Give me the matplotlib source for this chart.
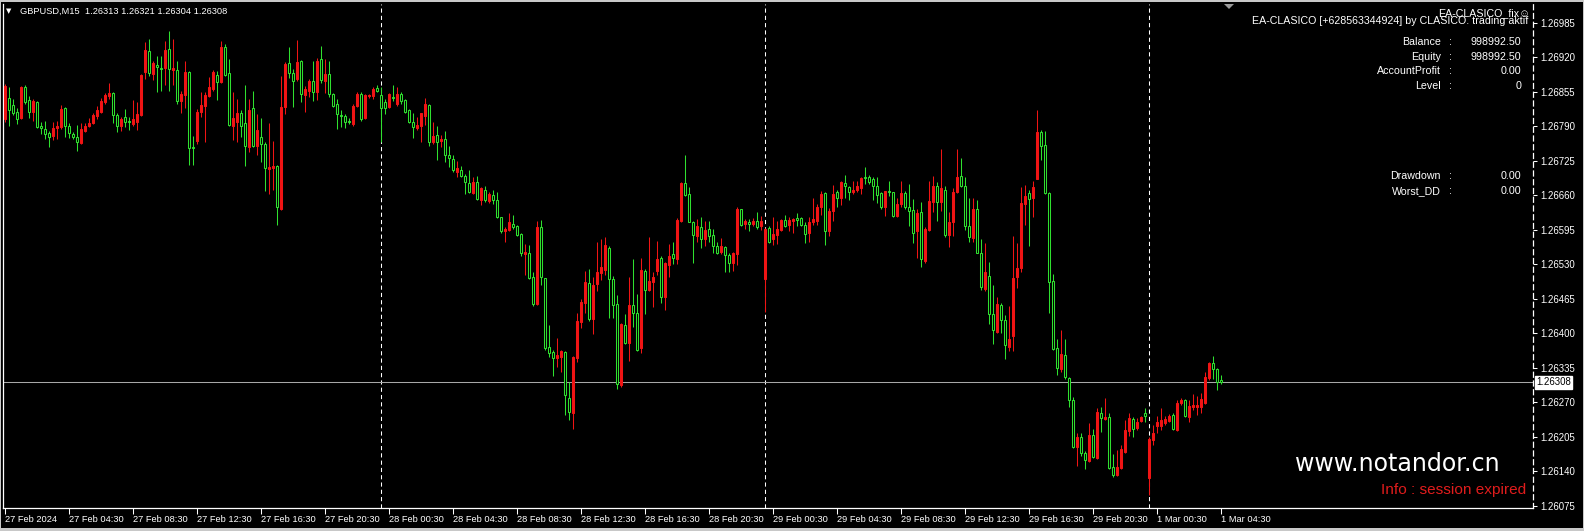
import numpy as np
import pandas as pd
import matplotlib
matplotlib.use("Agg")
import matplotlib.pyplot as plt
from matplotlib.patches import Rectangle, Polygon

# GBPUSD M15 candles, prices in points (1e-5)
opens = [
    126803, 126843, 126830, 126818, 126805, 126864, 126839, 126818, 126835, 126790,
    126785, 126777, 126772, 126787, 126788, 126824, 126790, 126776, 126770, 126758,
    126781, 126790, 126797, 126809, 126818, 126835, 126847, 126853, 126811, 126790,
    126807, 126801, 126795, 126799, 126811, 126892, 126932, 126889, 126906, 126900,
    126900, 126936, 126896, 126896, 126837, 126849, 126892, 126751, 126762, 126818,
    126828, 126847, 126860, 126887, 126873, 126940, 126890, 126790, 126799, 126816,
    126797, 126751, 126824, 126753, 126770, 126756, 126709, 126711, 126715, 126634,
    126826, 126909, 126890, 126879, 126913, 126849, 126856, 126875, 126855, 126917,
    126875, 126889, 126851, 126832, 126811, 126809, 126801, 126795, 126828, 126851,
    126805, 126847, 126847, 126862, 126849, 126835, 126826, 126845, 126833, 126851,
    126839, 126820, 126799, 126787, 126790, 126809, 126830, 126760, 126774, 126762,
    126766, 126736, 126728, 126705, 126707, 126696, 126683, 126664, 126685, 126652,
    126671, 126650, 126660, 126652, 126619, 126592, 126594, 126607, 126603, 126588,
    126549, 126552, 126507, 126456, 126600, 126505, 126375, 126365, 126354, 126356,
    126365, 126279, 126250, 126354, 126422, 126458, 126495, 126428, 126494, 126514,
    126520, 126560, 126503, 126456, 126303, 126416, 126382, 126454, 126439, 126373,
    126518, 126481, 126497, 126518, 126543, 126468, 126528, 126549, 126541, 126611,
    126683, 126662, 126609, 126583, 126600, 126577, 126596, 126585, 126564, 126554,
    126562, 126547, 126533, 126549, 126634, 126607, 126609, 126607, 126611, 126602,
    126503, 126598, 126577, 126585, 126594, 126613, 126604, 126611, 126617, 126617,
    126605, 126590, 126609, 126611, 126639, 126664, 126592, 126630, 126666, 126656,
    126683, 126675, 126666, 126671, 126673, 126694, 126694, 126690, 126677, 126664,
    126639, 126669, 126666, 126622, 126643, 126664, 126639, 126632, 126592, 126628,
    126537, 126594, 126647, 126677, 126647, 126671, 126585, 126609, 126666, 126696,
    126677, 126602, 126579, 126634, 126552, 126484, 126509, 126437, 126403, 126454,
    126426, 126375, 126396, 126507, 126524, 126643, 126664, 126656, 126690, 126779,
    126755, 126664, 126499, 126373, 126333, 126360, 126316, 126275, 126186, 126205,
    126175, 126160, 126209, 126165, 126250, 126239, 126243, 126149, 126134, 126147,
    126177, 126216, 126239, 126222, 126235, 126250, 126128, 126199, 126226, 126226,
    126231, 126235, 126246, 126218, 126269, 126275, 126243, 126262, 126262, 126262,
    126269, 126316, 126344, 126333, 126313,
]
highs = [
    126870, 126864, 126841, 126824, 126866, 126868, 126847, 126841, 126837, 126799,
    126801, 126781, 126799, 126801, 126830, 126826, 126797, 126779, 126792, 126797,
    126797, 126805, 126816, 126828, 126843, 126853, 126872, 126855, 126815, 126807,
    126822, 126807, 126839, 126835, 126889, 126949, 126955, 126913, 126923, 126923,
    126951, 126970, 126955, 126913, 126856, 126913, 126894, 126772, 126822, 126855,
    126855, 126883, 126896, 126894, 126951, 126945, 126917, 126855, 126841, 126820,
    126868, 126841, 126856, 126813, 126805, 126760, 126797, 126762, 126717, 126885,
    126911, 126940, 126898, 126953, 126915, 126866, 126879, 126913, 126919, 126942,
    126917, 126913, 126853, 126841, 126820, 126813, 126805, 126833, 126855, 126855,
    126851, 126851, 126864, 126868, 126864, 126841, 126853, 126868, 126864, 126855,
    126841, 126822, 126816, 126807, 126816, 126843, 126832, 126799, 126790, 126774,
    126781, 126753, 126737, 126724, 126715, 126700, 126707, 126694, 126696, 126675,
    126677, 126666, 126671, 126666, 126620, 126600, 126626, 126624, 126605, 126590,
    126569, 126567, 126515, 126611, 126613, 126505, 126416, 126369, 126392, 126369,
    126367, 126309, 126358, 126439, 126464, 126518, 126522, 126507, 126573, 126577,
    126581, 126564, 126509, 126473, 126420, 126437, 126507, 126541, 126475, 126543,
    126522, 126581, 126516, 126575, 126545, 126535, 126569, 126573, 126617, 126685,
    126737, 126675, 126611, 126615, 126620, 126611, 126611, 126596, 126573, 126579,
    126564, 126552, 126554, 126639, 126635, 126615, 126615, 126617, 126628, 126622,
    126598, 126602, 126619, 126611, 126615, 126624, 126619, 126617, 126626, 126620,
    126609, 126619, 126656, 126643, 126669, 126666, 126637, 126679, 126671, 126688,
    126698, 126677, 126688, 126688, 126694, 126713, 126698, 126694, 126694, 126666,
    126669, 126688, 126666, 126656, 126688, 126668, 126681, 126654, 126635, 126647,
    126600, 126688, 126696, 126685, 126747, 126677, 126628, 126673, 126747, 126730,
    126694, 126656, 126656, 126652, 126577, 126571, 126535, 126492, 126469, 126458,
    126435, 126451, 126583, 126571, 126675, 126679, 126671, 126688, 126820, 126783,
    126781, 126666, 126512, 126390, 126407, 126390, 126318, 126281, 126212, 126212,
    126178, 126231, 126220, 126260, 126262, 126279, 126250, 126173, 126180, 126190,
    126237, 126250, 126243, 126241, 126245, 126260, 126205, 126228, 126245, 126260,
    126245, 126248, 126250, 126275, 126279, 126277, 126275, 126286, 126283, 126288,
    126328, 126346, 126358, 126335, 126321,
]
lows = [
    126799, 126790, 126811, 126795, 126803, 126833, 126805, 126801, 126787, 126776,
    126766, 126751, 126764, 126766, 126785, 126770, 126768, 126766, 126743, 126756,
    126779, 126788, 126794, 126803, 126816, 126833, 126841, 126797, 126779, 126781,
    126788, 126783, 126790, 126783, 126809, 126879, 126885, 126877, 126855, 126856,
    126868, 126856, 126868, 126832, 126815, 126824, 126718, 126718, 126756, 126807,
    126760, 126845, 126856, 126839, 126872, 126885, 126790, 126764, 126760, 126770,
    126715, 126741, 126751, 126736, 126722, 126669, 126662, 126671, 126604, 126632,
    126813, 126881, 126826, 126875, 126835, 126818, 126845, 126837, 126839, 126872,
    126853, 126845, 126826, 126785, 126788, 126787, 126795, 126790, 126826, 126801,
    126803, 126843, 126841, 126855, 126760, 126813, 126824, 126837, 126828, 126832,
    126816, 126797, 126768, 126783, 126760, 126792, 126753, 126756, 126726, 126751,
    126722, 126713, 126705, 126694, 126694, 126662, 126664, 126662, 126652, 126641,
    126647, 126645, 126643, 126617, 126590, 126573, 126592, 126596, 126583, 126545,
    126511, 126503, 126451, 126454, 126492, 126369, 126356, 126320, 126337, 126327,
    126246, 126237, 126220, 126346, 126411, 126439, 126424, 126398, 126479, 126501,
    126511, 126430, 126430, 126296, 126299, 126380, 126348, 126413, 126367, 126363,
    126437, 126479, 126449, 126511, 126458, 126445, 126507, 126530, 126530, 126609,
    126658, 126609, 126533, 126573, 126560, 126564, 126573, 126552, 126549, 126549,
    126515, 126515, 126518, 126528, 126602, 126596, 126592, 126602, 126596, 126594,
    126441, 126571, 126566, 126568, 126592, 126600, 126592, 126590, 126602, 126602,
    126571, 126573, 126605, 126605, 126624, 126567, 126583, 126611, 126639, 126641,
    126656, 126651, 126662, 126666, 126662, 126681, 126681, 126651, 126645, 126634,
    126622, 126658, 126620, 126620, 126639, 126634, 126602, 126571, 126543, 126526,
    126533, 126592, 126628, 126611, 126630, 126581, 126562, 126583, 126664, 126675,
    126594, 126573, 126573, 126552, 126481, 126479, 126418, 126381, 126400, 126401,
    126352, 126367, 126367, 126486, 126515, 126604, 126564, 126620, 126690, 126726,
    126662, 126439, 126369, 126322, 126327, 126314, 126262, 126184, 126151, 126169,
    126145, 126158, 126165, 126164, 126214, 126237, 126145, 126130, 126132, 126145,
    126175, 126207, 126205, 126218, 126233, 126233, 126096, 126190, 126212, 126218,
    126228, 126233, 126218, 126216, 126265, 126243, 126233, 126256, 126246, 126250,
    126267, 126313, 126314, 126294, 126304,
]
closes = [
    126866, 126820, 126816, 126803, 126864, 126835, 126818, 126837, 126788, 126787,
    126776, 126770, 126787, 126790, 126822, 126790, 126777, 126770, 126760, 126785,
    126790, 126797, 126811, 126820, 126837, 126849, 126853, 126811, 126790, 126803,
    126799, 126799, 126803, 126813, 126887, 126934, 126890, 126909, 126902, 126898,
    126934, 126898, 126900, 126837, 126851, 126892, 126749, 126749, 126818, 126830,
    126849, 126864, 126892, 126873, 126940, 126887, 126792, 126805, 126815, 126790,
    126753, 126820, 126753, 126783, 126756, 126711, 126713, 126715, 126639, 126826,
    126907, 126890, 126875, 126911, 126851, 126860, 126875, 126855, 126913, 126877,
    126889, 126851, 126828, 126813, 126809, 126799, 126799, 126828, 126851, 126803,
    126849, 126849, 126860, 126856, 126824, 126824, 126851, 126843, 126851, 126837,
    126818, 126799, 126788, 126792, 126815, 126832, 126760, 126772, 126760, 126766,
    126737, 126730, 126707, 126711, 126696, 126685, 126666, 126685, 126654, 126673,
    126652, 126662, 126652, 126619, 126592, 126596, 126609, 126600, 126585, 126552,
    126554, 126505, 126456, 126600, 126507, 126373, 126363, 126354, 126360, 126367,
    126284, 126252, 126356, 126424, 126460, 126497, 126428, 126492, 126516, 126526,
    126567, 126503, 126454, 126305, 126418, 126382, 126454, 126439, 126369, 126520,
    126481, 126499, 126507, 126541, 126468, 126533, 126545, 126543, 126613, 126683,
    126660, 126609, 126585, 126602, 126577, 126594, 126583, 126564, 126552, 126564,
    126547, 126533, 126551, 126635, 126604, 126611, 126607, 126611, 126600, 126611,
    126596, 126573, 126587, 126596, 126613, 126602, 126613, 126615, 126613, 126604,
    126587, 126609, 126615, 126639, 126662, 126592, 126630, 126662, 126656, 126685,
    126677, 126666, 126671, 126677, 126692, 126692, 126686, 126677, 126660, 126639,
    126668, 126666, 126622, 126643, 126664, 126639, 126630, 126590, 126626, 126541,
    126596, 126649, 126677, 126647, 126673, 126585, 126609, 126666, 126694, 126677,
    126602, 126581, 126635, 126552, 126488, 126515, 126437, 126407, 126456, 126426,
    126379, 126390, 126505, 126524, 126645, 126658, 126654, 126675, 126779, 126753,
    126664, 126497, 126371, 126335, 126361, 126318, 126275, 126186, 126205, 126175,
    126162, 126209, 126167, 126252, 126241, 126243, 126147, 126134, 126149, 126182,
    126218, 126241, 126220, 126233, 126243, 126245, 126201, 126212, 126233, 126237,
    126239, 126245, 126220, 126269, 126275, 126245, 126264, 126266, 126266, 126277,
    126318, 126344, 126333, 126309, 126308,
]

first_bar = "2024-02-27 00:30"
price_ticks_top = 1.26985
price_tick_step = 0.00065

W, H = 1584, 531
WHITE = "white"
GREEN = "#2fe02f"
RED = "#f01414"

o = np.array(opens) / 1e5
h = np.array(highs) / 1e5
l = np.array(lows) / 1e5
c = np.array(closes) / 1e5
x = np.arange(len(c))
times = pd.date_range(first_bar, periods=len(c), freq="15min")

plt.rcParams["font.family"] = ["Liberation Sans", "DejaVu Sans"]

fig = plt.figure(figsize=(W / 100, H / 100), dpi=100, facecolor="black")
ax = fig.add_axes([3 / W, 1 - 508 / H, (1533 - 3) / W, (508 - 4) / H])
ax.set_facecolor("black")

# bars: 4 px each
ax.set_xlim(-0.5, 382)
ax.set_ylim(1.260712, 1.270205)

up = c > o
col = np.where(up, RED, GREEN)
ax.vlines(x, l, h, colors=col, lw=0.75, zorder=2)
ax.bar(x, np.abs(c - o), bottom=np.minimum(o, c), width=0.5,
       color=np.where(up, RED, "black"), edgecolor=col, linewidth=0.75, zorder=3)

# day separators
for i, t in enumerate(times):
    if t.hour == 0 and t.minute == 0:
        ax.axvline(i, color=WHITE, lw=0.75, ls=(0, (4, 3)), zorder=1)

# bid line
ax.axhline(c[-1], color="#a8a8a8", lw=0.75, zorder=1)

# axes styling
for s in ["left", "bottom"]:
    ax.spines[s].set_color(WHITE)
    ax.spines[s].set_linewidth(0.9)
ax.spines["top"].set_visible(False)
ax.spines["right"].set_color(WHITE)
ax.spines["right"].set_linewidth(0.9)
ax.spines["right"].set_linestyle((0, (4, 3)))

yt = price_ticks_top - price_tick_step * np.arange(15)
ax.yaxis.tick_right()
ax.set_yticks(yt, [f"{v:.5f}" for v in yt])
ax.tick_params(axis="y", colors=WHITE, labelsize=6.9, length=3, width=0.75, pad=2)

xt = list(range(0, len(c), 16))
xl = []
for k in xt:
    t = times[k]
    if k == 0:
        xl.append(f"{t.day} {t:%b} {t.year}")
    else:
        xl.append(f"{t.day} {t:%b} {t:%H:%M}")
ax.set_xticks(xt, xl)
ax.tick_params(axis="x", colors=WHITE, labelsize=6.7, length=4, width=0.75, pad=1)
for lb in ax.get_xticklabels():
    lb.set_ha("left")

# bid price label
bid_y = ax.transData.transform((0, c[-1]))[1]
fig.text(1536 / W, bid_y / H, f"{c[-1]:.5f}", color="black", fontsize=6.9,
         va="center", ha="left",
         bbox=dict(boxstyle="square,pad=0.15", fc="white", ec="white"))


def ftext(px, py, s, **kw):
    kw.setdefault("color", WHITE)
    fig.text(px / W, 1 - py / H, s, **kw)


# header
ftext(6, 11, "\u25bc", fontsize=5, va="center", family="DejaVu Sans")
ftext(20, 11, f"GBPUSD,M15  {o[-1]:.5f} {h[-1]:.5f} {l[-1]:.5f} {c[-1]:.5f}",
      fontsize=6.7, va="center")

# shift marker
fig.patches.append(Polygon([[1224 / W, 1 - 4 / H], [1234 / W, 1 - 4 / H], [1229 / W, 1 - 9 / H]],
                           closed=True, transform=fig.transFigure, fc="#9a9a9a", ec="none"))

# EA panel
ftext(1530, 13, "EA-CLASICO_fix\u263a", fontsize=7.7, ha="right", va="center")
ftext(1528, 21, "EA-CLASICO [+628563344924] by CLASICO. trading aktif",
      fontsize=7.7, ha="right", va="center")
rows = [("Balance", "998992.50", 42), ("Equity", "998992.50", 57),
        ("AccountProfit", "0.00", 71), ("Level", "0", 86),
        ("Drawdown", "0.00", 176), ("Worst_DD", "0.00", 191)]
for name, val, yy in rows:
    ftext(1441, yy, name, fontsize=7.7, ha="right", va="center")
    ftext(1450, yy, ":", fontsize=7.7, ha="center", va="center")
    ftext(1521, yy, val, fontsize=7.7, ha="right", va="center")

# watermark
ftext(1397, 471, "www.notandor.cn", fontsize=17.1, ha="center", va="baseline",
      family="DejaVu Sans")
ftext(1526, 494, "Info : session expired", fontsize=11.1, ha="right",
      va="baseline", color="#e01c1c")

# window border
for rx, ry, rw, rh in [(0, 0, W, 2), (0, H - 3, W, 3), (0, 0, 1, H), (W - 1, 0, 1, H)]:
    fig.patches.append(Rectangle((rx / W, 1 - (ry + rh) / H), rw / W, rh / H,
                                 transform=fig.transFigure, fc="#c8c8c8", ec="none"))

fig.savefig("out.png", dpi=100, facecolor="black")
